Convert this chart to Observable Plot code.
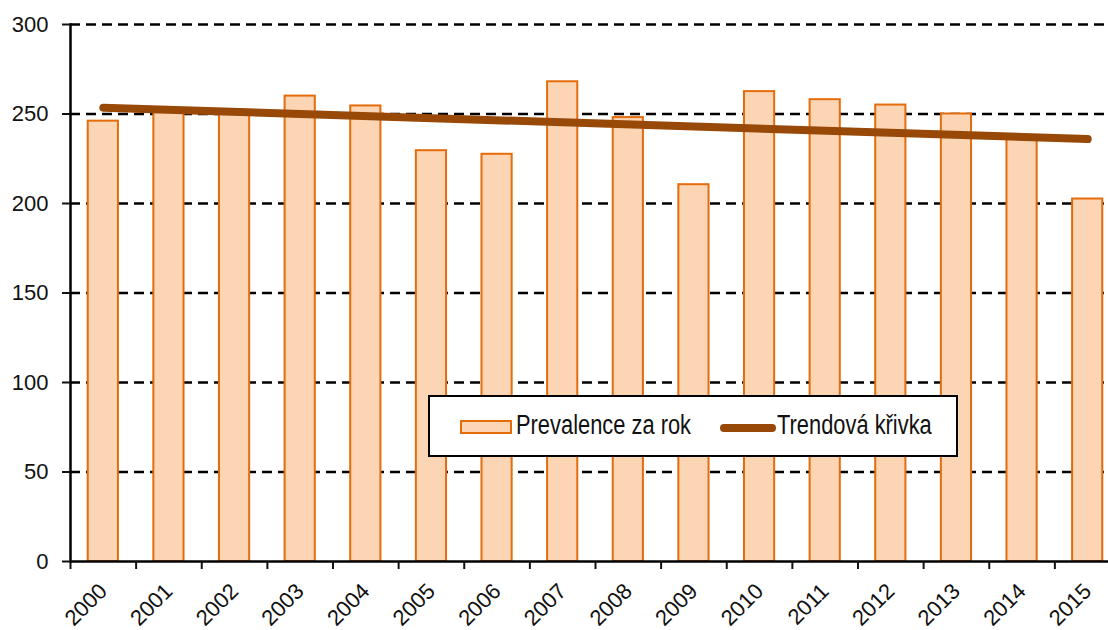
<!DOCTYPE html>
<html>
<head>
<meta charset="utf-8">
<script src="https://cdn.jsdelivr.net/npm/d3@7"></script>
<script src="https://cdn.jsdelivr.net/npm/@observablehq/plot@0.6"></script>
<style>
  body { margin: 0; background: white; }
  #wrap { position: relative; width: 1108px; height: 630px; overflow: hidden; font-family: "Liberation Sans", Arial, sans-serif; }
  #legend { position: absolute; left: 428px; top: 395px; width: 526px; height: 58px; border: 2px solid #000; background: #fff; font-size: 27px; line-height: 31px; color: #111; }
  #legend .sw1 { position: absolute; left: 30px; top: 23px; width: 48px; height: 10px; background: #FCD5B5; border: 2px solid #E46C0A; }
  #legend .txt { position: absolute; top: 13px; white-space: nowrap; transform: scaleX(0.81); transform-origin: 0 50%; }
  #legend .t1 { left: 86px; }
  #legend .sw2 { position: absolute; left: 290px; top: 27px; width: 56px; height: 8px; background: #984807; border-radius: 4px; }
  #legend .t2 { left: 347px; }
</style>
</head>
<body>
<div id="wrap">
  <div id="chart"></div>
  <div id="legend">
    <div class="sw1"></div><div class="txt t1">Prevalence za rok</div>
    <div class="sw2"></div><div class="txt t2">Trendová křivka</div>
  </div>
</div>
<script>
const years = ["2000","2001","2002","2003","2004","2005","2006","2007","2008","2009","2010","2011","2012","2013","2014","2015"];
const prevalence = [246, 251, 252, 260, 254.5, 229.5, 227.5, 268, 248, 210.5, 262.5, 258, 255, 250, 237, 202.5];
const trendYears = ["2000", "2015"];
const trendValues = [253.5, 236];
const yTicks = [0, 50, 100, 150, 200, 250, 300];
const gridTicks = [50, 100, 150, 200, 250, 300];

const data = years.map((y, i) => ({year: y, value: prevalence[i]}));
const trend = trendYears.map((y, i) => ({year: y, value: trendValues[i]}));

const xRange = [70, 1120];
const step = (xRange[1] - xRange[0]) / years.length;
const font = '"Liberation Sans", Arial, sans-serif';

const chart = Plot.plot({
  width: 1108,
  height: 630,
  marginTop: 24,
  marginBottom: 69,
  marginLeft: 70,
  marginRight: 0,
  style: {fontFamily: font, fontSize: "22px", color: "#111", background: "white", overflow: "visible"},
  x: {type: "band", domain: years, range: xRange, paddingInner: 0.54, paddingOuter: 0.27, round: false, label: null},
  y: {domain: [0, 300], label: null},
  marks: [
    Plot.gridY(gridTicks, {stroke: "#000", strokeOpacity: 1, strokeWidth: 2.5, strokeDasharray: "10,6"}),
    Plot.barY(data, {x: "year", y: "value", fill: "#FCD5B5", stroke: "#E46C0A", strokeWidth: 2}),
    Plot.line(trend, {x: "year", y: "value", stroke: "#984807", strokeWidth: 8, strokeLinecap: "round"}),
    Plot.ruleY([0], {stroke: "#000", strokeWidth: 2.5}),
    Plot.frame({anchor: "left", stroke: "#000", strokeWidth: 2.5}),
    Plot.axisY({ticks: yTicks, tickSize: 8, tickPadding: 14, strokeWidth: 2, label: null, fontSize: 22}),
    Plot.axisX({tickSize: 8, tickFormat: () => "", dx: -step / 2, strokeWidth: 2, label: null}),
    Plot.axisX({tickSize: 0, tickRotate: -45, tickPadding: 26, label: null, fontSize: 22})
  ]
});
document.getElementById("chart").appendChild(chart);
</script>
</body>
</html>
